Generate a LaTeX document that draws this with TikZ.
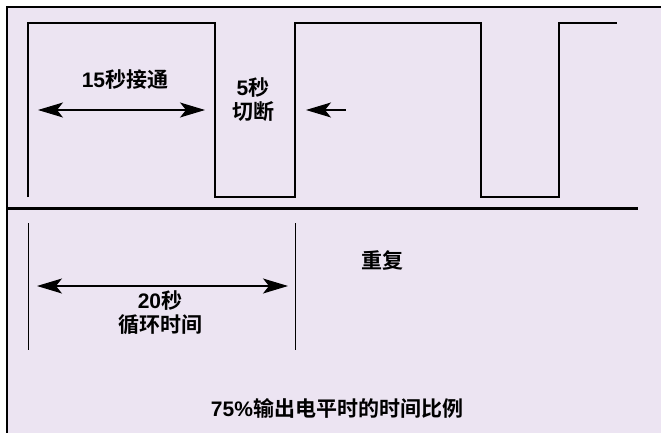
\documentclass[tikz,border=0pt]{standalone}
\usepackage{fontspec}
\setmainfont{Liberation Sans}
\newfontfamily\cjk{Noto Sans CJK SC}[BoldFont={Noto Sans CJK SC Bold}]
\usetikzlibrary{arrows.meta}
\definecolor{bgc}{HTML}{ECE4F2}
\tikzset{
  lbl/.style={font=\fontsize{21}{25}\selectfont\bfseries, align=center, inner sep=0pt},
  wave/.style={line width=1.4pt, line join=miter},
  dim/.style={line width=1.1pt, {Stealth[length=25pt,width=15pt,inset=6pt]}-{Stealth[length=25pt,width=15pt,inset=6pt]}},
  larrow/.style={line width=1.1pt, {Stealth[length=25pt,width=15pt,inset=6pt]}-},
  border/.style={line width=2pt},
}
\begin{document}
\begin{tikzpicture}[x=1pt,y=-1pt]
\useasboundingbox (0,0) rectangle (661,433);
\fill[bgc] (7,7) rectangle (661,433);
\draw[border] (6,7) -- (661,7);
\draw[border] (7,7) -- (7,433);
% waveform
\draw[wave] (28,197) -- (28,23) -- (215,23) -- (215,197) -- (295,197) -- (295,23) -- (481,23) -- (481,197) -- (559,197) -- (559,23) -- (617,23);
% separator
\draw[line width=3pt] (7,208.5) -- (638,208.5);
% 15 s arrow
\coordinate (a1) at (38,110);
\coordinate (a2) at (205,110);
\draw[dim] (a1) -- (a2);
\node[lbl] (on) at (125,80) {15{\cjk 秒接通}};
\node[lbl] (off) at (253,100) {5{\cjk 秒}\\[-1pt]{\cjk 切断}};
\coordinate (b1) at (306,110);
\coordinate (b2) at (346,110);
\draw[larrow] (b1) -- (b2);
% lower
\coordinate (v1t) at (28,223);
\coordinate (v1b) at (28,350);
\coordinate (v2t) at (295,223);
\coordinate (v2b) at (295,350);
\draw[line width=1pt] (v1t) -- (v1b);
\draw[line width=1pt] (v2t) -- (v2b);
\coordinate (c1) at (37,286);
\coordinate (c2) at (288,286);
\draw[dim] (c1) -- (c2);
\node[lbl] (cyc) at (160,313) {20{\cjk 秒}\\[-1pt]{\cjk 循环时间}};
\node[lbl] (rep) at (382,261) {\cjk 重复};
\node[lbl] (pct) at (337,408) {75\%{\cjk 输出电平时的时间比例}};
\end{tikzpicture}
\end{document}
